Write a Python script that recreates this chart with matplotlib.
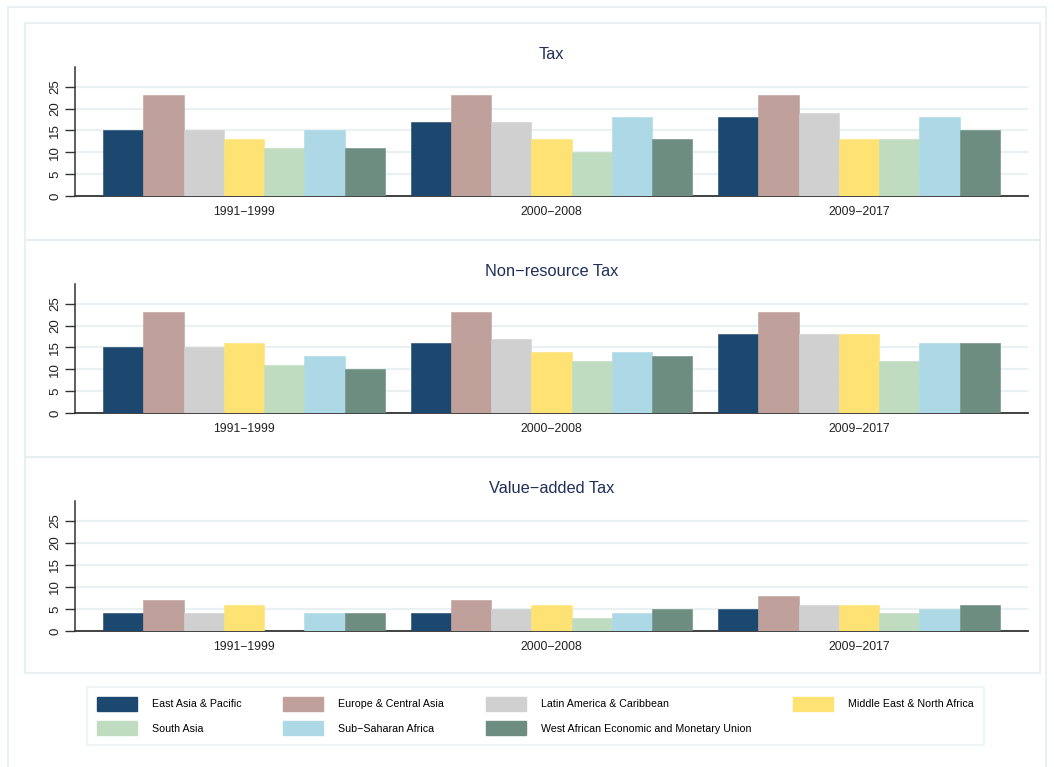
import numpy as np
import matplotlib
matplotlib.use('Agg')
import matplotlib.pyplot as plt
from matplotlib.patches import Rectangle, Patch

plt.rcParams['font.family'] = ['Liberation Sans', 'DejaVu Sans']

# data (share of GDP, %)
periods = ['1991\u22121999', '2000\u22122008', '2009\u22122017']
regions = ['East Asia & Pacific', 'Europe & Central Asia', 'Latin America & Caribbean',
           'Middle East & North Africa', 'South Asia', 'Sub\u2212Saharan Africa',
           'West African Economic and Monetary Union']
colors = ['#1c476e', '#bfa09b', '#d0d0d0', '#fee274', '#c0dcc0', '#add8e5', '#6c8d80']

tax = [[15, 17, 18], [23, 23, 23], [15, 17, 19], [13, 13, 13],
       [11, 10, 13], [15, 18, 18], [11, 13, 15]]
nonres_tax = [[15, 16, 18], [23, 23, 23], [15, 17, 18], [16, 14, 18],
              [11, 12, 12], [13, 14, 16], [10, 13, 16]]
vat = [[4, 4, 5], [7, 7, 8], [4, 5, 6], [6, 6, 6],
       [np.nan, 3, 4], [4, 4, 5], [4, 5, 6]]

panels = [('Tax', tax), ('Non\u2212resource Tax', nonres_tax), ('Value\u2212added Tax', vat)]

W, H = 1054, 767
fig = plt.figure(figsize=(W / 100, H / 100), dpi=100)
fig.patch.set_facecolor('white')

frame_col = '#e6eef0'
grid_col = '#eaf1f3'
title_col = '#1f2f58'

# outer frame and panel boxes (pixel coords -> figure fraction)
def px_rect(x0, y0, x1, y1, lw=1.0):
    r = Rectangle((x0 / W, 1 - y1 / H), (x1 - x0) / W, (y1 - y0) / H,
                  transform=fig.transFigure, fill=False, edgecolor=frame_col, lw=lw, zorder=0)
    fig.patches.append(r)

px_rect(8, 7, 1046, 780, lw=1.2)
for y0, y1 in [(23, 240), (240, 457), (457, 673)]:
    px_rect(25, y0, 1040, y1, lw=1.2)

# axes placement: (zero line y, top y) in pixels
axes_px = [(196, 67), (413, 284), (631, 501)]
x_left, x_right = 75, 1028

n = len(regions)
group_w = 0.917
bar_w = group_w / n
x = np.arange(len(periods))

for (title, values), (y0, ytop) in zip(panels, axes_px):
    ax = fig.add_axes([x_left / W, 1 - y0 / H, (x_right - x_left) / W, (y0 - ytop) / H])
    for i in range(n):
        offs = -group_w / 2 + bar_w * (i + 0.5)
        ax.bar(x + offs, values[i], width=bar_w, color=colors[i],
               edgecolor=colors[i], linewidth=0.4, zorder=3)
    ax.set_xlim(-0.55, 2.55)
    ax.set_ylim(0, 29.5)
    ax.set_yticks([0, 5, 10, 15, 20, 25])
    ax.set_xticks(x)
    ax.set_xticklabels(periods, fontsize=8.8, color='#222222')
    ax.tick_params(axis='x', length=0, pad=7)
    ax.tick_params(axis='y', length=7, width=1, color='#333333', labelsize=9.5,
                   labelcolor='#222222', pad=3)
    for lab in ax.get_yticklabels():
        lab.set_rotation(90)
        lab.set_va('center')
    ax.yaxis.grid(True, color=grid_col, lw=1.6, zorder=0)
    ax.set_axisbelow(True)
    for s in ['top', 'right']:
        ax.spines[s].set_visible(False)
    ax.spines['left'].set_color('#333333')
    ax.spines['bottom'].set_color('#333333')
    ax.spines['left'].set_linewidth(1.1)
    ax.spines['bottom'].set_linewidth(1.3)
    ax.set_facecolor('none')
    ax.set_title(title, fontsize=11.8, color=title_col, pad=6)

handles = [Patch(facecolor=c, edgecolor=c) for c in colors]
order = [0, 4, 1, 5, 2, 6, 3]
leg = fig.legend([handles[i] for i in order], [regions[i] for i in order],
                 loc='center', bbox_to_anchor=((85 + 986) / 2 / W, 1 - 716 / H),
                 ncol=4, fontsize=7.7, frameon=True, fancybox=False,
                 handlelength=3.75, handleheight=1.6, handletextpad=1.4,
                 columnspacing=3.9, labelspacing=1.0, borderpad=0.9)
leg.get_frame().set_edgecolor(frame_col)
leg.get_frame().set_linewidth(1.2)

fig.savefig('out.png', dpi=100, facecolor='white')
